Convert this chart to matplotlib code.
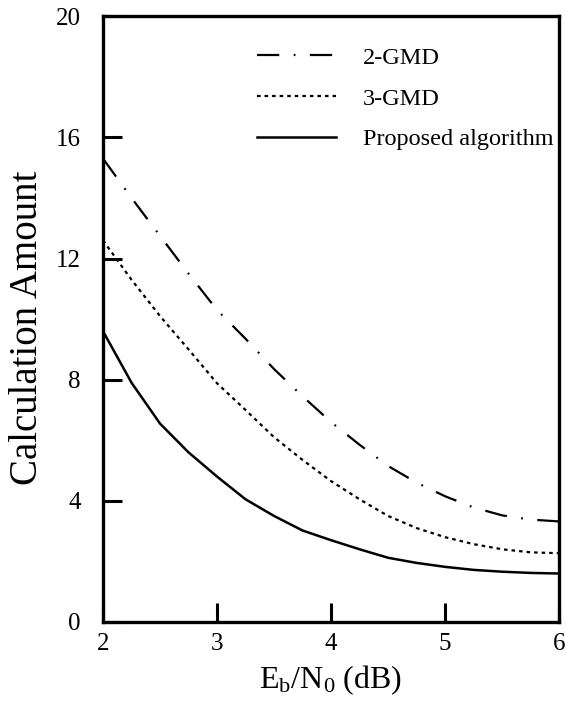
import matplotlib
matplotlib.use('Agg')
import matplotlib.pyplot as plt

plt.rcParams['font.family'] = ['Liberation Serif', 'DejaVu Serif']
plt.rcParams['mathtext.fontset'] = 'custom'
plt.rcParams['mathtext.rm'] = 'Liberation Serif'
plt.rcParams['mathtext.it'] = 'Liberation Serif:italic'

# Eb/N0 (dB) sample points
snr = [2.0, 2.25, 2.5, 2.75, 3.0, 3.25, 3.5, 3.75, 4.0, 4.25, 4.5, 4.75, 5.0, 5.25, 5.5, 5.75, 6.0]

gmd2 = [15.3, 14.0, 12.75, 11.5, 10.3, 9.35, 8.35, 7.45, 6.6, 5.85, 5.15, 4.6, 4.15, 3.78, 3.52, 3.38, 3.32]
gmd3 = [12.6, 11.3, 10.1, 9.0, 7.88, 7.0, 6.1, 5.35, 4.65, 4.05, 3.5, 3.1, 2.8, 2.57, 2.4, 2.3, 2.27]
proposed = [9.6, 7.9, 6.55, 5.6, 4.8, 4.05, 3.5, 3.02, 2.7, 2.4, 2.12, 1.95, 1.82, 1.72, 1.66, 1.62, 1.6]

labels = ['2-GMD', '3-GMD', 'Proposed algorithm']
xticks = [2, 3, 4, 5, 6]
yticks = [0, 4, 8, 12, 16, 20]

fig = plt.figure(figsize=(5.66, 7.06), dpi=100)
ax = fig.add_axes([0.182, 0.119, 0.806, 0.858])

ax.plot(snr, gmd2, color='black', lw=1.6, linestyle=(0, (10, 6.5, 0.8, 6.5)), label=labels[0])
ax.plot(snr, gmd3, color='black', lw=1.6, linestyle=(0, (1.6, 1.8)), label=labels[1])
ax.plot(snr, proposed, color='black', lw=1.8, linestyle='-', label=labels[2])

ax.set_xlim(2, 6)
ax.set_ylim(0, 20)
ax.set_xticks(xticks)
ax.set_yticks(yticks)

for s in ax.spines.values():
    s.set_linewidth(2.4)
ax.tick_params(direction='in', length=14, width=2.2, labelsize=18)
ax.tick_params(axis='y', pad=16)
ax.tick_params(axis='x', pad=8)

ax.set_xlabel(r'$\mathrm{E_b/N_0}$ (dB)', fontsize=23, labelpad=6)
ax.set_ylabel('Calculation Amount', fontsize=28)
ax.yaxis.set_label_coords(-0.125, 0.485)

ax.legend(loc='upper right', bbox_to_anchor=(0.987, 0.95), frameon=False, fontsize=17.5,
          handlelength=3.25, handletextpad=1.1, labelspacing=0.78, borderaxespad=0, borderpad=0)

fig.savefig('out.png', dpi=100)
